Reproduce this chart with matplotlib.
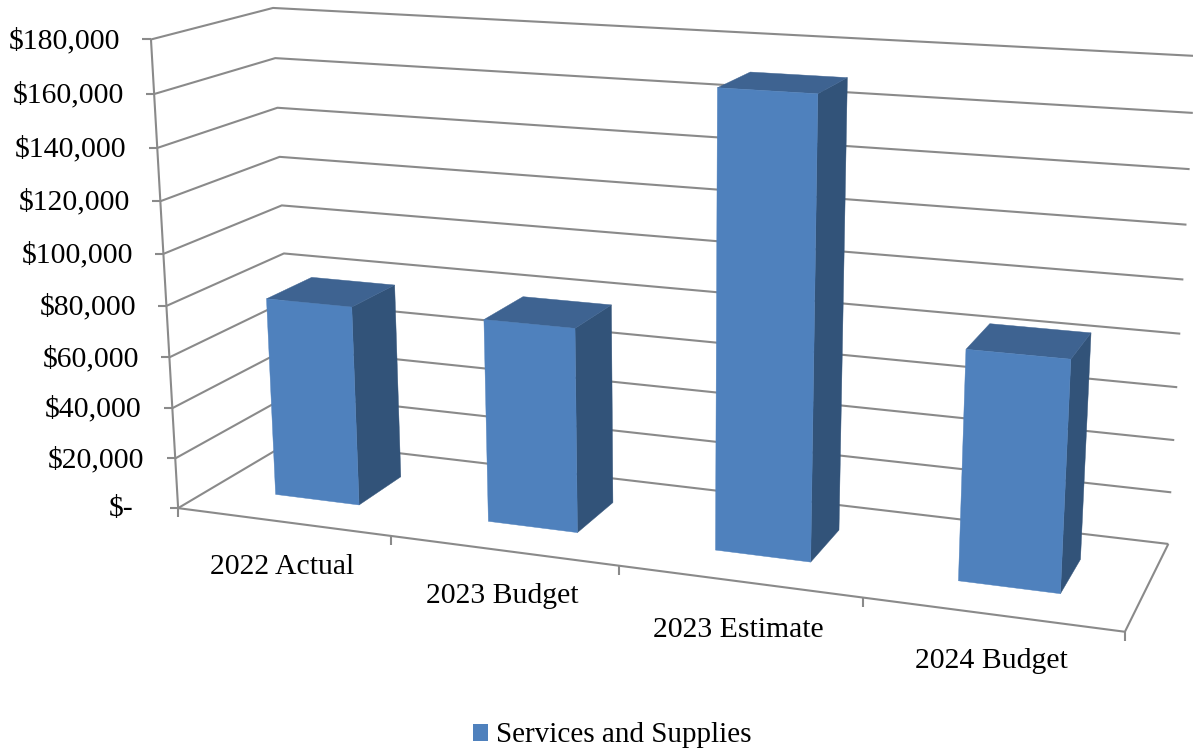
import numpy as np
import matplotlib
matplotlib.use("Agg")
import matplotlib.pyplot as plt
from matplotlib.patches import Polygon, Patch

categories = ["2022 Actual", "2023 Budget", "2023 Estimate", "2024 Budget"]
services_and_supplies = [78600, 78700, 170000, 84700]
value_ticks = [0, 20000, 40000, 60000, 80000, 100000, 120000, 140000, 160000, 180000]
value_labels = ["$-", "$20,000", "$40,000", "$60,000", "$80,000", "$100,000",
                "$120,000", "$140,000", "$160,000", "$180,000"]
series_name = "Services and Supplies"

VALUE_MAX = 180000
GAP_WIDTH = 1.5
GAP_DEPTH = 1.5

FRONT = "#4F81BD"
TOP = "#3E6391"
SIDE = "#325379"
GRID = "#8A8A8A"

W, H = 1193, 750

# Camera: pixel positions of the plot box corners, as (category, value, depth) -> (px, py)
box_corners = [
    ((0, 0, 0), (178.3, 507.7)),
    ((0, 1, 0), (150.7, 39.7)),
    ((0, 0, 1), (292.0, 441.0)),
    ((0, 1, 1), (273.3, 7.7)),
    ((1, 0, 1), (1168.3, 543.7)),
    ((1, 1, 1), (1196.0, 56.0)),
    ((1, 0, 0), (1125.0, 632.0)),
]

# Distance from the category axis down to each label's centre, in pixels
category_label_drop = [42.5, 42.5, 45.5, 44]


def fit_camera(pairs):
    """Least-squares 3x4 projective camera with its last entry fixed to 1."""
    rows, rhs = [], []
    for (u, v, w), (px, py) in pairs:
        rows.append([u, v, w, 1, 0, 0, 0, 0, -px * u, -px * v, -px * w])
        rhs.append(px)
        rows.append([0, 0, 0, 0, u, v, w, 1, -py * u, -py * v, -py * w])
        rhs.append(py)
    sol = np.linalg.lstsq(np.array(rows, float), np.array(rhs, float), rcond=None)[0]
    return np.append(sol, 1.0).reshape(3, 4)


CAMERA = fit_camera(box_corners)


def project(u, value, w):
    h = CAMERA @ np.array([u, value / VALUE_MAX, w, 1.0])
    return h[0] / h[2], h[1] / h[2]


plt.rcParams["font.family"] = ["Liberation Serif", "DejaVu Serif"]
FONT_SIZE = 21.4

fig = plt.figure(figsize=(W / 100, H / 100), dpi=100)
ax = fig.add_axes([0, 0, 1, 1])
ax.set_xlim(0, W)
ax.set_ylim(H, 0)
ax.axis("off")


def line(points, **kw):
    xs, ys = zip(*points)
    ax.plot(xs, ys, color=GRID, lw=1.5, solid_capstyle="butt", zorder=1, **kw)


# Walls and floor
for val in value_ticks:
    line([project(0, val, 0), project(0, val, 1), project(1, val, 1)])
line([project(0, 0, 0), project(0, VALUE_MAX, 0)])
line([project(0, 0, 0), project(1, 0, 0), project(1, 0, 1)])

# Value axis ticks and labels
for val, text in zip(value_ticks, value_labels):
    x, y = project(0, val, 0)
    line([(x - 8.5, y), (x, y)])
    shift = 14 if val == 0 else 0
    ax.text(x - 30.5 - shift, y - 1.7, text, ha="right", va="center_baseline",
            fontsize=FONT_SIZE, color="black")

# Category ticks and labels
n = len(categories)
for i in range(n + 1):
    x, y = project(i / n, 0, 0)
    line([(x, y), (x, y + 9)])
for i, name in enumerate(categories):
    x, y = project((i + 0.5) / n, 0, 0)
    ax.text(x - 0.5, y + category_label_drop[i], name, ha="center", va="center_baseline",
            fontsize=FONT_SIZE, color="black")

# Bars, back faces are hidden so only three faces per bar are drawn
bar_w = (1 / n) / (1 + GAP_WIDTH)
w0 = 0.5 - 0.5 / (1 + GAP_DEPTH)
w1 = 1 - w0
for i, val in enumerate(services_and_supplies):
    u0 = (i + 0.5) / n - bar_w / 2
    u1 = u0 + bar_w
    front = [project(u0, 0, w0), project(u1, 0, w0), project(u1, val, w0), project(u0, val, w0)]
    side = [project(u1, 0, w0), project(u1, 0, w1), project(u1, val, w1), project(u1, val, w0)]
    top = [project(u0, val, w0), project(u1, val, w0), project(u1, val, w1), project(u0, val, w1)]
    for face, colour in ((side, SIDE), (top, TOP), (front, FRONT)):
        ax.add_patch(Polygon(face, closed=True, facecolor=colour, edgecolor=colour,
                             lw=0.3, zorder=3))

ax.legend(handles=[Patch(facecolor=FRONT, edgecolor="none", label=series_name)],
          loc="center", bbox_to_anchor=(612 / W, 1 - 735.5 / H), frameon=False,
          fontsize=21.0, handlelength=0.53, handleheight=0.53, handletextpad=0.25,
          borderpad=0, borderaxespad=0)

fig.savefig("out.png", dpi=100)
